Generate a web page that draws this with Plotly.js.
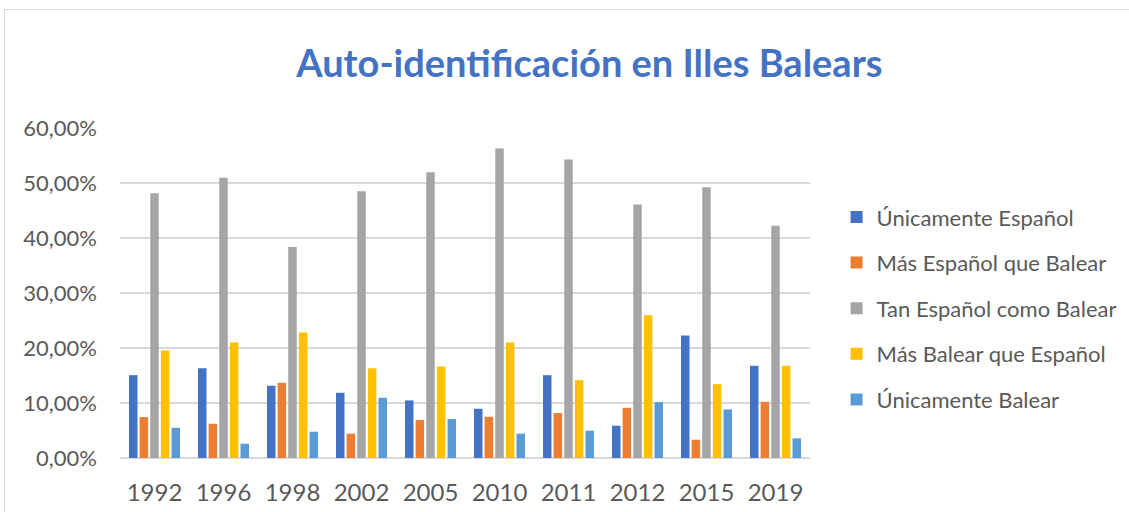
<!DOCTYPE html>
<html><head><meta charset="utf-8">
<script src="https://cdn.plot.ly/plotly-3.0.1.min.js"></script>
<style>
html,body{margin:0;padding:0;background:#fff;}
#wrap{position:absolute;left:0;top:0;width:1129px;height:512px;overflow:hidden;}
#frame{position:absolute;left:4px;top:9px;width:1140px;height:520px;border:1px solid #d9d9d9;box-sizing:border-box;pointer-events:none;}
#chart{position:absolute;left:0;top:0;width:1129px;height:512px;}
</style></head>
<body>
<div id="wrap"><div id="chart"></div><div id="frame"></div></div>
<script>
const years = ["1992","1996","1998","2002","2005","2010","2011","2012","2015","2019"];
const seriesNames = ["Únicamente Español","Más Español que Balear","Tan Español como Balear","Más Balear que Español","Únicamente Balear"];
const unicamenteEspanol = [0.1506,0.1633,0.1313,0.1186,0.1047,0.0895,0.1506,0.0587,0.2226,0.1676];
const masEspanolQueBalear = [0.0744,0.0623,0.1367,0.0442,0.0690,0.0750,0.0817,0.0913,0.0333,0.1022];
const tanEspanolComoBalear = [0.4815,0.5094,0.3835,0.4852,0.5197,0.5626,0.5426,0.4610,0.4924,0.4223];
const masBalearQueEspanol = [0.1954,0.2099,0.2281,0.1633,0.1664,0.2099,0.1416,0.2595,0.1343,0.1676];
const unicamenteBalear = [0.0550,0.0260,0.0478,0.1095,0.0708,0.0442,0.0496,0.1016,0.0883,0.0357];
const colors = ["#4472C4","#ED7D31","#A5A5A5","#FFC000","#5B9BD5"];
const values = [unicamenteEspanol,masEspanolQueBalear,tanEspanolComoBalear,masBalearQueEspanol,unicamenteBalear];

const traces = values.map((v,i)=>({
  type:'bar', x:years, y:v, name:seriesNames[i], legendgroup:'g'+i,
  marker:{color:colors[i], line:{width:0}},
  hoverinfo:'skip'
}));

const font = "Lato, sans-serif";
const layout = {
  width:1129, height:512,
  paper_bgcolor:'rgba(0,0,0,0)', plot_bgcolor:'rgba(0,0,0,0)',
  margin:{l:120, r:319, t:128, b:54},
  separators:',.',
  barmode:'group', bargap:0.23, bargroupgap:0.2,
  font:{family:font, color:'#595959', size:24},
  title:{text:'<b>Auto-identificación en Illes Balears</b>', font:{family:font, size:38, color:'#4472C4'},
         x:0.522, xref:'container', xanchor:'center', y:0.875, yref:'container', yanchor:'middle'},
  xaxis:{type:'category', showgrid:false, showline:false, zeroline:false, ticks:'', tickfont:{size:24, color:'#595959'}, ticklabelstandoff:18},
  yaxis:{range:[0,0.6], dtick:0.1, tickformat:'.2%', showgrid:true, gridcolor:'#d9d9d9', gridwidth:1.5,
         zeroline:true, zerolinecolor:'#d9d9d9', zerolinewidth:1.5, showline:false, ticks:'',
         tickfont:{size:22, color:'#595959'}, ticklabelstandoff:22},
  legend:{xref:'container', yref:'container', x:0.741, xanchor:'left', y:0.398, yanchor:'middle',
          font:{size:22, color:'#595959', family:font},
          tracegroupgap:14, itemwidth:30, bgcolor:'rgba(0,0,0,0)'},
  showlegend:true
};
Plotly.newPlot('chart', traces, layout, {staticPlot:true, displayModeBar:false});
</script>
</body></html>
